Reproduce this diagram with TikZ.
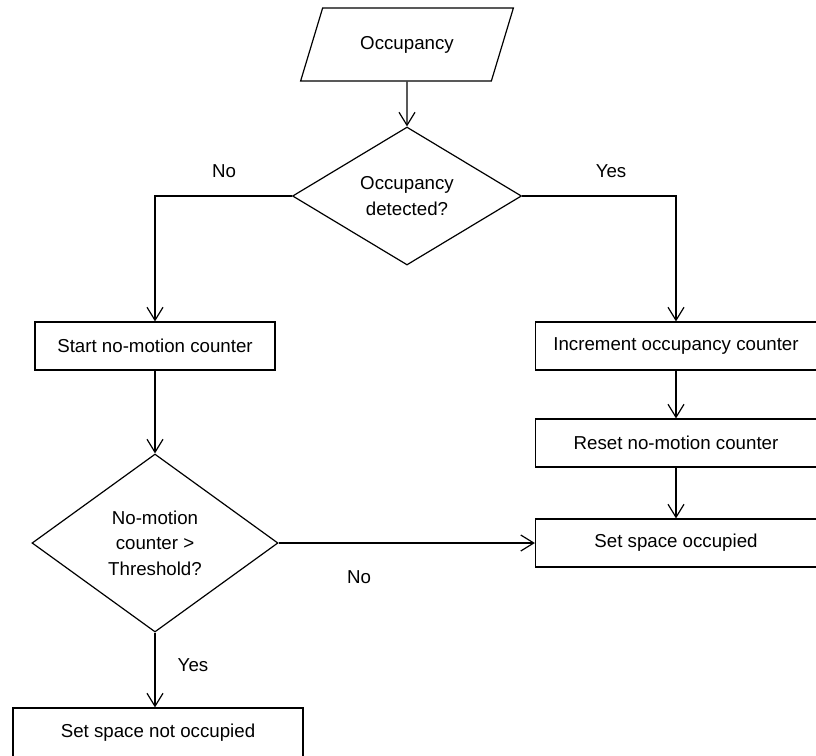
\documentclass[tikz,border=0pt]{standalone}
\usepackage{fontspec}
\setmainfont{Liberation Sans}
\usetikzlibrary{shapes.geometric,arrows.meta}
\begin{document}
\begin{tikzpicture}[x=1pt,y=-1pt,line width=1.2pt,
    every node/.style={font=\fontsize{18.7}{25.5}\selectfont},
    box/.style={draw,rectangle,minimum height=48pt,inner sep=0pt},
    decision/.style={draw,diamond,align=center,inner sep=0pt},
    io/.style={draw,trapezium,trapezium left angle=61,trapezium right angle=119,
        trapezium stretches=true,minimum width=213pt,minimum height=73pt},
    arr/.style={-{Straight Barb[length=13pt,width=16pt]}}]
    \useasboundingbox (0,0) rectangle (816,755);

    \node[io] (occin) at (407,44.5) {Occupancy};
    \node[decision,minimum width=229pt,minimum height=138pt,aspect=1.66] (detect) at (407,196) {Occupancy\\detected?};

    \node[box,minimum width=240pt] (startnm) at (155,346) {Start no-motion counter};
    \node[box,minimum width=281pt] (incocc) at (676,346) {Increment occupancy counter};
    \node[box,minimum width=281pt] (resetnm) at (676,443) {Reset no-motion counter};
    \node[box,minimum width=281pt] (setocc) at (676,543) {Set space occupied};

    \node[decision,minimum width=246pt,minimum height=178pt,aspect=1.38] (thresh) at (155,543) {No-motion\\counter >\\Threshold?};
    \node[box,minimum width=290pt,minimum height=50pt] (setfree) at (158,733) {Set space not occupied};

    \draw[arr] (occin.south) -- (detect.north);
    \draw[arr] (detect.west) -| (startnm.north);
    \draw[arr] (detect.east) -| (incocc.north);
    \draw[arr] (incocc.south) -- (resetnm.north);
    \draw[arr] (resetnm.south) -- (setocc.north);
    \draw[arr] (startnm.south) -- (thresh.north);
    \draw[arr] (thresh.east) -- (setocc.west);
    \draw[arr] (thresh.south) -- (thresh.south |- setfree.north);

    \node (lblno1) at (224,171) {No};
    \node (lblyes1) at (611,171) {Yes};
    \node (lblno2) at (359,577) {No};
    \node (lblyes2) at (193,665) {Yes};
\end{tikzpicture}
\end{document}
